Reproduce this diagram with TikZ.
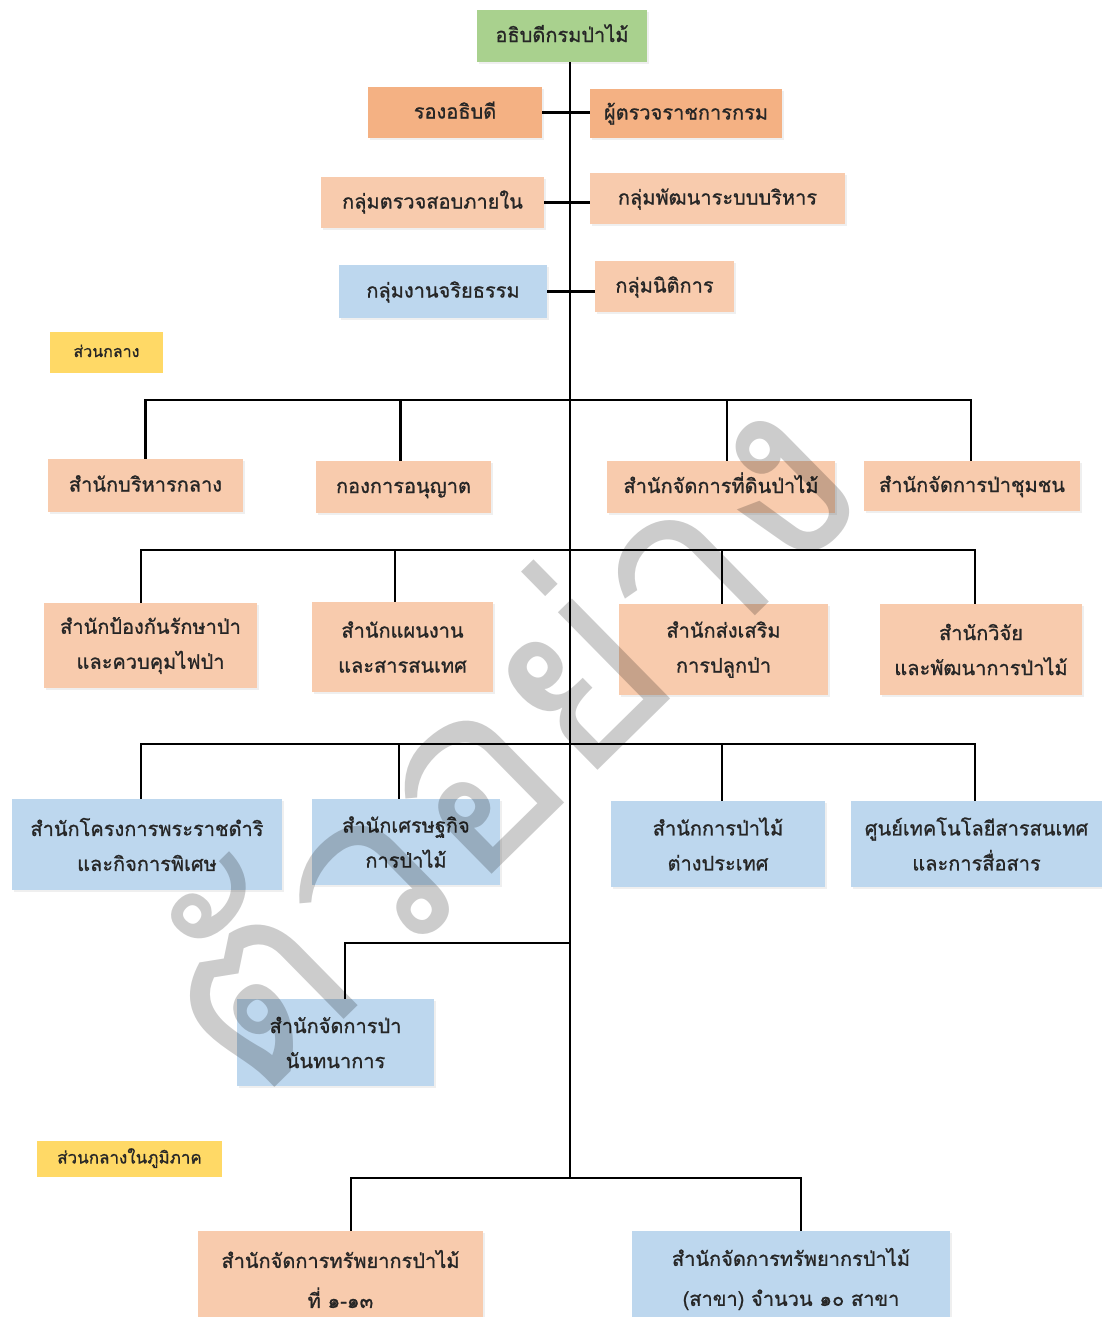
\documentclass[tikz,border=0pt]{standalone}
\usepackage{fontspec}
\setmainfont[Script=Thai]{Loma}
\newfontfamily\boxfont[Script=Thai,FakeBold=1]{Loma}
\usetikzlibrary{shadows}
\definecolor{cgreen}{HTML}{A9D18E}
\definecolor{corange}{HTML}{F4B183}
\definecolor{clight}{HTML}{F8CBAD}
\definecolor{cblue}{HTML}{BDD7EE}
\definecolor{cyellow}{HTML}{FFD966}
\definecolor{ctext}{HTML}{262626}
\begin{document}
\begin{tikzpicture}[x=1pt,y=-1pt,
  box/.style={inner sep=0pt, align=center, text=ctext,
    font=\boxfont\fontsize{20}{35}\selectfont,
    drop shadow={shadow xshift=2pt, shadow yshift=-2pt, opacity=0.12}},
  one/.style={text height=14pt, text depth=2pt},
  tag/.style={inner sep=0pt, align=center, text=ctext, fill=cyellow,
    font=\boxfont\fontsize{16}{20}\selectfont, text height=11pt, text depth=2pt},
  conn/.style={draw=black, line width=2.6pt},
  wm/.style={text=black, opacity=0.2, font=\fontsize{252}{252}\selectfont, rotate=44.5, inner sep=0pt}]
\useasboundingbox (0,0) rectangle (1102,1317);
\fill[white] (0,0) rectangle (1102,1317);

% top
\node[box, one, fill=cgreen, minimum width=170pt, minimum height=52pt] (top) at (562,36) {อธิบดีกรมป่าไม้};
\node[box, one, fill=corange, minimum width=174pt, minimum height=51pt] (rong) at (455,112.5) {รองอธิบดี};
\node[box, one, fill=corange, minimum width=192pt, minimum height=49pt] (phu) at (686,113.5) {ผู้ตรวจราชการกรม};
\node[box, one, fill=clight, minimum width=223pt, minimum height=51pt] (kt) at (432.5,202.5) {กลุ่มตรวจสอบภายใน};
\node[box, one, fill=clight, minimum width=255pt, minimum height=51pt] (kp) at (717.5,198.5) {กลุ่มพัฒนาระบบบริหาร};
\node[box, one, fill=cblue, minimum width=208pt, minimum height=53pt] (kj) at (443,291.5) {กลุ่มงานจริยธรรม};
\node[box, one, fill=clight, minimum width=139pt, minimum height=51pt] (kn) at (664.5,286.5) {กลุ่มนิติการ};

\node[tag, minimum width=113pt, minimum height=41pt] (y1) at (106.5,352.5) {ส่วนกลาง};

% row 1
\node[box, one, fill=clight, minimum width=195pt, minimum height=53pt] (b11) at (145.5,485.5) {สำนักบริหารกลาง};
\node[box, one, fill=clight, minimum width=175pt, minimum height=52pt] (b12) at (403.5,487) {กองการอนุญาต};
\node[box, one, fill=clight, minimum width=228pt, minimum height=52pt] (b13) at (721,487) {สำนักจัดการที่ดินป่าไม้};
\node[box, one, fill=clight, minimum width=216pt, minimum height=50pt] (b14) at (972,486) {สำนักจัดการป่าชุมชน};

% row 2
\node[box, fill=clight, minimum width=213pt, minimum height=85pt] (b21) at (150.5,645.5) {สำนักป้องกันรักษาป่า\\และควบคุมไฟป่า};
\node[box, fill=clight, minimum width=181pt, minimum height=90pt] (b22) at (402.5,647) {สำนักแผนงาน\\และสารสนเทศ};
\node[box, fill=clight, minimum width=209pt, minimum height=91pt] (b23) at (723.5,649.5) {สำนักส่งเสริม\\การปลูกป่า};
\node[box, fill=clight, minimum width=202pt, minimum height=91pt] (b24) at (981,649.5) {สำนักวิจัย\\และพัฒนาการป่าไม้};

% row 3
\node[box, fill=cblue, minimum width=270pt, minimum height=91pt] (b31) at (147,844.5) {สำนักโครงการพระราชดำริ\\และกิจการพิเศษ};
\node[box, fill=cblue, minimum width=188pt, minimum height=86pt] (b32) at (406,842) {สำนักเศรษฐกิจ\\การป่าไม้};
\node[box, fill=cblue, minimum width=214pt, minimum height=86pt] (b33) at (718,844) {สำนักการป่าไม้\\ต่างประเทศ};
\node[box, fill=cblue, minimum width=251pt, minimum height=86pt] (b34) at (976.5,844) {ศูนย์เทคโนโลยีสารสนเทศ\\และการสื่อสาร};

% row 4
\node[box, fill=cblue, minimum width=197pt, minimum height=87pt] (b41) at (335.5,1042.5) {สำนักจัดการป่า\\นันทนาการ};

\node[tag, minimum width=185pt, minimum height=36pt, font=\boxfont\fontsize{17}{20}\selectfont] (y2) at (129.5,1159) {ส่วนกลางในภูมิภาค};

% row 5
\node[box, fill=clight, minimum width=285pt, minimum height=96pt, font=\boxfont\fontsize{20}{40}\selectfont] (b51) at (340.5,1279) {สำนักจัดการทรัพยากรป่าไม้\\ที่ ๑-๑๓};
\node[box, fill=cblue, minimum width=318pt, minimum height=96pt, font=\boxfont\fontsize{20}{40}\selectfont] (b52) at (791,1279) {สำนักจัดการทรัพยากรป่าไม้\\(สาขา) จำนวน ๑๐ สาขา};

% watermark
\node[wm] (mark) at (494,732) {ตัวอย่าง};

% connectors
\coordinate (mend) at (570,1178);
\draw[conn] (top.south -| mend) -- (mend);
\draw[conn] (rong.east) -- (phu.west |- rong.east);
\draw[conn] (kt.east) -- (kp.west |- kt.east);
\draw[conn] (kj.east) -- (kn.west |- kj.east);

\coordinate (r1) at (570,400);
\draw[conn] (b11.north) |- (r1) -| ([xshift=-1pt]b14.north);
\draw[conn] ([xshift=-3pt]b12.north) -- ([xshift=-3pt]b12.north |- r1);
\draw[conn] ([xshift=6pt]b13.north) -- ([xshift=6pt]b13.north |- r1);

\coordinate (r2) at (570,550);
\draw[conn] ([xshift=-9.5pt]b21.north) |- (r2) -| ([xshift=-6pt]b24.north);
\draw[conn] ([xshift=-7.5pt]b22.north) -- ([xshift=-7.5pt]b22.north |- r2);
\draw[conn] ([xshift=-1.5pt]b23.north) -- ([xshift=-1.5pt]b23.north |- r2);

\coordinate (r3) at (570,744);
\draw[conn] ([xshift=-6pt]b31.north) |- (r3) -| ([xshift=-1.5pt]b34.north);
\draw[conn] ([xshift=-7pt]b32.north) -- ([xshift=-7pt]b32.north |- r3);
\draw[conn] ([xshift=4pt]b33.north) -- ([xshift=4pt]b33.north |- r3);

\coordinate (r4) at (570,943);
\draw[conn] ([xshift=9.5pt]b41.north) |- (r4);

\draw[conn] ([xshift=10.5pt]b51.north) |- (mend) -| ([xshift=10pt]b52.north);
\end{tikzpicture}
\end{document}
